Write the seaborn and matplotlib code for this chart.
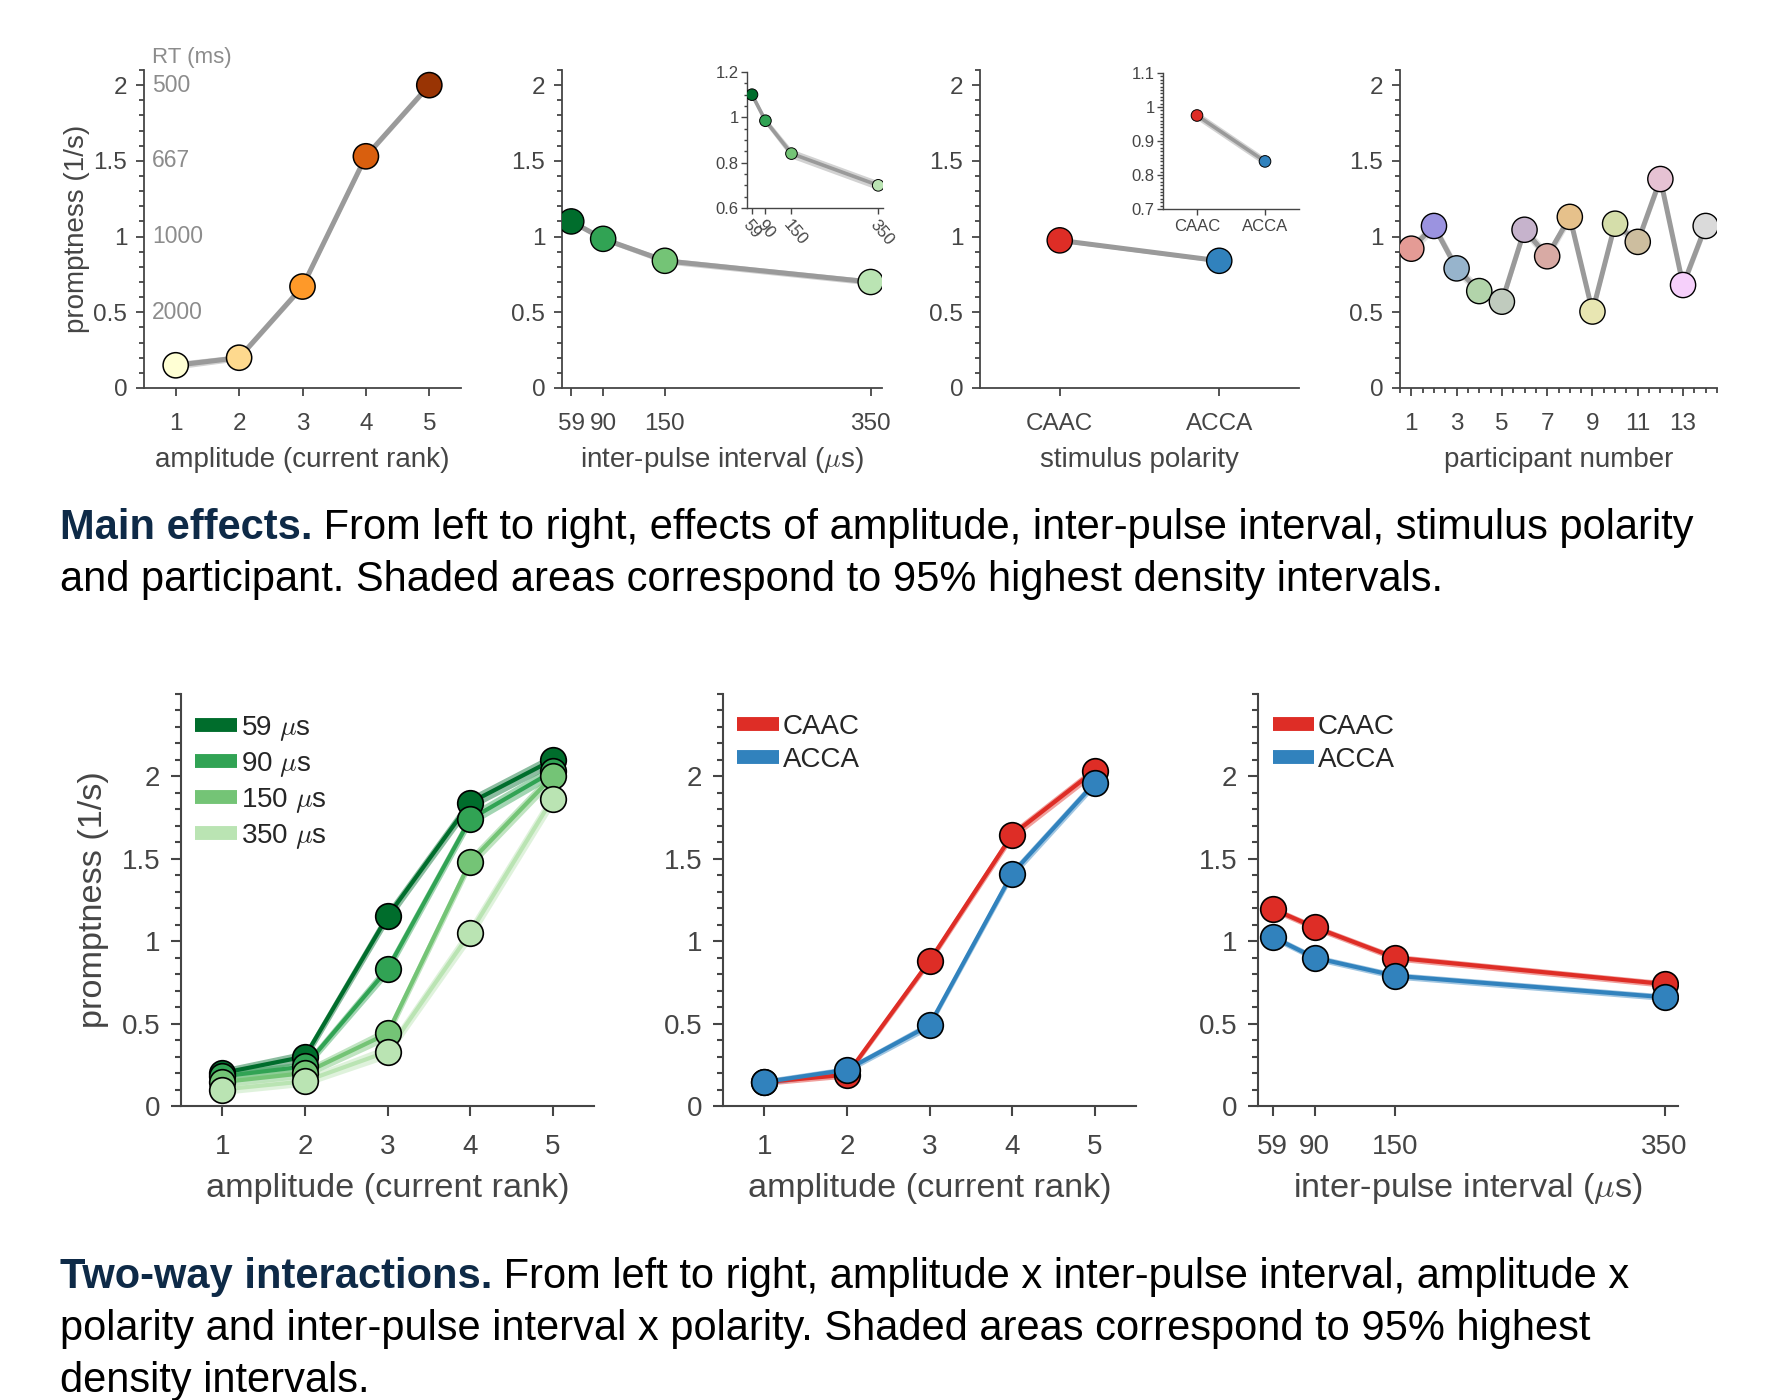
import numpy as np
import pandas as pd
import seaborn as sns
import matplotlib
matplotlib.use("Agg")
import matplotlib.pyplot as plt
import matplotlib.transforms as mtransforms
from matplotlib.ticker import MultipleLocator, FixedLocator, FuncFormatter
from matplotlib.lines import Line2D

sns.set_theme(style="ticks")
plt.rcParams["font.family"] = ["Liberation Sans", "DejaVu Sans"]
plt.rcParams["mathtext.fontset"] = "cm"

# ---------------- data ----------------
amplitude = [1, 2, 3, 4, 5]
amp_promptness = [0.15, 0.20, 0.67, 1.53, 2.00]
amp_hdi_half = [0.025, 0.02, 0.02, 0.02, 0.02]
amp_colors = ["#ffffd4", "#fed98e", "#fe9929", "#d95f0e", "#993404"]

ipi_us = [59, 90, 150, 350]
ipi_promptness = [1.10, 0.985, 0.84, 0.70]
ipi_hdi_half = [0.015, 0.015, 0.02, 0.02]
ipi_colors = ["#006d2c", "#31a354", "#74c476", "#bae4b3"]
ipi_labels = ["59 $\\mu$s", "90 $\\mu$s", "150 $\\mu$s", "350 $\\mu$s"]

polarity = ["CAAC", "ACCA"]
pol_promptness = [0.975, 0.84]
pol_hdi_half = [0.012, 0.012]
pol_colors = ["#de2d26", "#3182bd"]

participants = list(range(1, 15))
part_promptness = [0.92, 1.07, 0.79, 0.64, 0.57, 1.045, 0.87, 1.13, 0.505,
                   1.085, 0.965, 1.38, 0.68, 1.07]
part_hdi_half = [0.04, 0.04, 0.04, 0.04, 0.04, 0.04, 0.04, 0.04, 0.04,
                 0.04, 0.04, 0.04, 0.04, 0.04]
part_colors = ["#e49b95", "#9b93e0", "#97b4cc", "#b2d4aa", "#c0cbbe", "#c6b3cc",
               "#d8aaa4", "#e6c18b", "#e8e6b2", "#d5deaa", "#cdbe9f", "#e6c2d3",
               "#f6d0fb", "#dadada"]

rt_ms_labels = ["500", "667", "1000", "2000"]
rt_promptness = [2.0, 1.5, 1.0, 0.5]

# amplitude x inter-pulse interval
amp_ipi_59 = [0.20, 0.30, 1.15, 1.84, 2.10]
amp_ipi_90 = [0.18, 0.24, 0.83, 1.74, 2.03]
amp_ipi_150 = [0.145, 0.20, 0.44, 1.48, 2.00]
amp_ipi_350 = [0.10, 0.15, 0.33, 1.05, 1.865]
amp_ipi_hw_59 = [0.03, 0.035, 0.04, 0.04, 0.04]
amp_ipi_hw_90 = [0.03, 0.03, 0.04, 0.04, 0.04]
amp_ipi_hw_150 = [0.03, 0.03, 0.04, 0.04, 0.04]
amp_ipi_hw_350 = [0.03, 0.03, 0.04, 0.05, 0.05]

# amplitude x polarity
amp_pol_caac = [0.145, 0.19, 0.88, 1.645, 2.035]
amp_pol_acca = [0.145, 0.22, 0.49, 1.41, 1.96]
amp_pol_hw_caac = [0.02, 0.02, 0.025, 0.03, 0.03]
amp_pol_hw_acca = [0.02, 0.02, 0.025, 0.03, 0.03]

# inter-pulse interval x polarity
ipi_pol_caac = [1.195, 1.085, 0.90, 0.74]
ipi_pol_acca = [1.025, 0.90, 0.79, 0.66]
ipi_pol_hw_caac = [0.02, 0.02, 0.02, 0.02]
ipi_pol_hw_acca = [0.02, 0.02, 0.02, 0.02]

# ---------------- figure ----------------
W, H = 1773, 1400
fig = plt.figure(figsize=(W / 100, H / 100), dpi=100)


def add_axes_px(left, right, top, bottom):
    return fig.add_axes([left / W, 1 - bottom / H, (right - left) / W, (bottom - top) / H])


AX_COL = "#454545"
LINE_GREY = "#9a9a9a"
BAND_GREY = "#d2d2d2"
fmt_g = FuncFormatter(lambda v, p: "%g" % round(v, 3))


def style(ax, labelsize, ymajor_ticks, yminor, lw=1.3, maj=6, mino=3.5, xpad=8, ypad=6):
    sns.despine(ax=ax)
    for s in ["left", "bottom"]:
        ax.spines[s].set_color(AX_COL)
        ax.spines[s].set_linewidth(lw)
    ax.tick_params(which="both", direction="out", color=AX_COL, labelcolor=AX_COL,
                   width=lw, labelsize=labelsize)
    ax.tick_params(which="major", length=maj)
    ax.tick_params(which="minor", length=mino)
    ax.tick_params(axis="x", which="major", pad=xpad)
    ax.tick_params(axis="y", which="major", pad=ypad)
    ax.yaxis.set_major_locator(FixedLocator(ymajor_ticks))
    ax.yaxis.set_minor_locator(MultipleLocator(yminor))
    ax.yaxis.set_major_formatter(fmt_g)
    ax.set_facecolor("white")


def band(ax, x, y, hw, color, alpha=1.0, z=1):
    ax.fill_between(x, np.array(y) - np.array(hw), np.array(y) + np.array(hw),
                    color=color, alpha=alpha, lw=0, zorder=z)


Y_MAJOR = [0, 0.5, 1, 1.5, 2]

# ---------- top row ----------
ax1 = add_axes_px(144, 461, 70, 388)
ax2 = add_axes_px(562, 882, 70, 388)
ax3 = add_axes_px(980, 1299, 70, 388)
ax4 = add_axes_px(1400, 1717, 70, 388)
ins2 = add_axes_px(747, 883, 72, 208)
ins3 = add_axes_px(1163, 1299, 73, 209)

TOP_LS = 17.5
TOP_LAB = 20
MS_TOP = 330
TOP_XPAD = 12
INSET_LS = 12

# Panel 1: amplitude
df1 = pd.DataFrame({"amplitude": amplitude, "promptness": amp_promptness,
                    "lvl": [str(a) for a in amplitude]})
band(ax1, amplitude, amp_promptness, amp_hdi_half, BAND_GREY)
sns.lineplot(data=df1, x="amplitude", y="promptness", color=LINE_GREY, lw=3.6, ax=ax1, zorder=2)
sns.scatterplot(data=df1, x="amplitude", y="promptness", hue="lvl",
                palette=dict(zip(df1["lvl"], amp_colors)), s=MS_TOP, edgecolor="black",
                linewidth=1.1, legend=False, ax=ax1, zorder=3)
style(ax1, TOP_LS, Y_MAJOR, 0.1, xpad=TOP_XPAD)
ax1.set_xlim(0.5, 5.5)
ax1.set_ylim(0, 2.1)
ax1.xaxis.set_major_locator(FixedLocator(amplitude))
ax1.set_xlabel("amplitude (current rank)", fontsize=TOP_LAB, color=AX_COL)
ax1.set_ylabel("promptness (1/s)", fontsize=TOP_LAB, color=AX_COL)
trans = mtransforms.blended_transform_factory(ax1.transAxes, ax1.transData)
for lab, v in zip(rt_ms_labels, rt_promptness):
    ax1.text(0.025, v, lab, transform=trans, color="#8c8c8c", fontsize=16.5, va="center", ha="left")
ax1.text(0.025, 1.038, "RT (ms)", transform=ax1.transAxes, color="#8c8c8c", fontsize=16,
         va="center", ha="left", clip_on=False)

# Panel 2: inter-pulse interval (+ inset)
df2 = pd.DataFrame({"ipi": ipi_us, "promptness": ipi_promptness, "lvl": [str(v) for v in ipi_us]})
for ax, ms, lw in [(ax2, MS_TOP, 3.6), (ins2, 70, 2.6)]:
    band(ax, ipi_us, ipi_promptness, ipi_hdi_half, BAND_GREY)
    sns.lineplot(data=df2, x="ipi", y="promptness", color=LINE_GREY, lw=lw, ax=ax, zorder=2)
    sns.scatterplot(data=df2, x="ipi", y="promptness", hue="lvl",
                    palette=dict(zip(df2["lvl"], ipi_colors)), s=ms, edgecolor="black",
                    linewidth=1.0 if ax is ax2 else 0.7, legend=False, ax=ax, zorder=3)
style(ax2, TOP_LS, Y_MAJOR, 0.1, xpad=TOP_XPAD)
ax2.set_xlim(50, 361)
ax2.set_ylim(0, 2.1)
ax2.xaxis.set_major_locator(FixedLocator(ipi_us))
ax2.set_xlabel("inter-pulse interval ($\\mu$s)", fontsize=TOP_LAB, color=AX_COL)
ax2.set_ylabel("")

style(ins2, INSET_LS, [0.6, 0.8, 1.0, 1.2], 0.05, lw=1.0, maj=4, mino=2.2, xpad=3, ypad=2)
ins2.set_xlim(47.5, 361)
ins2.set_ylim(0.6, 1.2)
ins2.xaxis.set_major_locator(FixedLocator(ipi_us))
ins2.set_xlabel("")
ins2.set_ylabel("")
for t in ins2.get_xticklabels():
    t.set_rotation(-50)
    t.set_ha("left")
    t.set_va("top")
    t.set_rotation_mode("anchor")

# Panel 3: polarity (+ inset)
df3 = pd.DataFrame({"polarity": polarity, "promptness": pol_promptness})
for ax, ms, lw in [(ax3, MS_TOP, 3.6), (ins3, 70, 2.6)]:
    band(ax, [0, 1], pol_promptness, pol_hdi_half, BAND_GREY)
    sns.lineplot(data=df3, x="polarity", y="promptness", color=LINE_GREY, lw=lw, ax=ax,
                 zorder=2, sort=False)
    sns.scatterplot(data=df3, x="polarity", y="promptness", hue="polarity",
                    palette=dict(zip(polarity, pol_colors)), s=ms, edgecolor="black",
                    linewidth=1.0 if ax is ax3 else 0.7, legend=False, ax=ax, zorder=3)
style(ax3, TOP_LS, Y_MAJOR, 0.1, xpad=TOP_XPAD)
ax3.set_xlim(-0.5, 1.5)
ax3.set_ylim(0, 2.1)
ax3.set_xlabel("stimulus polarity", fontsize=TOP_LAB, color=AX_COL)
ax3.set_ylabel("")

style(ins3, INSET_LS, [0.7, 0.8, 0.9, 1.0, 1.1], 0.01, lw=1.0, maj=4, mino=2.2, xpad=3, ypad=2)
ins3.set_xlim(-0.5, 1.5)
ins3.set_ylim(0.7, 1.1)
ins3.tick_params(axis="x", labelsize=12)
ins3.set_xlabel("")
ins3.set_ylabel("")

# Panel 4: participants
df4 = pd.DataFrame({"participant": participants, "promptness": part_promptness,
                    "lvl": [str(p) for p in participants]})
band(ax4, participants, part_promptness, part_hdi_half, "#e0e0e0")
sns.lineplot(data=df4, x="participant", y="promptness", color=LINE_GREY, lw=3.6, ax=ax4, zorder=2)
sns.scatterplot(data=df4, x="participant", y="promptness", hue="lvl",
                palette=dict(zip(df4["lvl"], part_colors)), s=MS_TOP, edgecolor="black",
                linewidth=1.0, legend=False, ax=ax4, zorder=3)
style(ax4, TOP_LS, Y_MAJOR, 0.1, xpad=TOP_XPAD)
ax4.set_xlim(0.5, 14.5)
ax4.set_ylim(0, 2.1)
ax4.xaxis.set_major_locator(FixedLocator([1, 3, 5, 7, 9, 11, 13]))
ax4.xaxis.set_minor_locator(MultipleLocator(0.5))
ax4.set_xlabel("participant number", fontsize=TOP_LAB, color=AX_COL)
ax4.set_ylabel("")

for ax in [ax1, ax2, ax3, ax4]:
    ax.xaxis.set_label_coords(0.5, -0.225)
    ax.xaxis.label.set_va("center")
ax1.yaxis.set_label_coords(-0.211, 0.5)
ax1.yaxis.label.set_va("center")

# ---------- bottom row ----------
ax5 = add_axes_px(181, 594, 694, 1106)
ax6 = add_axes_px(723, 1136, 694, 1106)
ax7 = add_axes_px(1258, 1678, 694, 1106)

BOT_LS = 20
BOT_LAB = 24.7
MS_BOT = 340
LW_BOT = 3.0


def series_panel(ax, x, ys, hws, colors, labels):
    for y, hw, c in zip(ys, hws, colors):
        band(ax, x, y, hw, c, alpha=0.45, z=1)
        sns.lineplot(x=x, y=y, color=c, lw=LW_BOT, ax=ax, zorder=2)
    for y, c in zip(ys, colors):
        sns.scatterplot(x=x, y=y, color=c, s=MS_BOT, edgecolor="black", linewidth=1.2,
                        ax=ax, zorder=3, legend=False)
    handles = [Line2D([0], [0], color=c, lw=10, solid_capstyle="butt") for c in colors]
    ax.legend(handles, labels, loc="upper left", bbox_to_anchor=(0.035, 0.952),
              frameon=False, fontsize=20, handlelength=1.5, handletextpad=0.13,
              labelspacing=0.25, borderaxespad=0, borderpad=0)
    style(ax, BOT_LS, Y_MAJOR, 0.1, lw=1.5, maj=7, mino=4, xpad=13, ypad=8)
    ax.set_ylim(0, 2.5)


series_panel(ax5, amplitude, [amp_ipi_59, amp_ipi_90, amp_ipi_150, amp_ipi_350],
             [amp_ipi_hw_59, amp_ipi_hw_90, amp_ipi_hw_150, amp_ipi_hw_350], ipi_colors, ipi_labels)
ax5.set_xlim(0.5, 5.5)
ax5.xaxis.set_major_locator(FixedLocator(amplitude))
ax5.set_xlabel("amplitude (current rank)", fontsize=BOT_LAB, color=AX_COL)
ax5.set_ylabel("promptness (1/s)", fontsize=BOT_LAB, color=AX_COL)
ax5.yaxis.set_label_coords(-0.211, 0.5)
ax5.yaxis.label.set_va("center")

series_panel(ax6, amplitude, [amp_pol_caac, amp_pol_acca],
             [amp_pol_hw_caac, amp_pol_hw_acca], pol_colors, polarity)
ax6.set_xlim(0.5, 5.5)
ax6.xaxis.set_major_locator(FixedLocator(amplitude))
ax6.set_xlabel("amplitude (current rank)", fontsize=BOT_LAB, color=AX_COL)
ax6.set_ylabel("")

series_panel(ax7, ipi_us, [ipi_pol_caac, ipi_pol_acca],
             [ipi_pol_hw_caac, ipi_pol_hw_acca], pol_colors, polarity)
ax7.set_xlim(48, 360)
ax7.xaxis.set_major_locator(FixedLocator(ipi_us))
ax7.set_xlabel("inter-pulse interval ($\\mu$s)", fontsize=BOT_LAB, color=AX_COL)
ax7.set_ylabel("")

for ax in [ax5, ax6, ax7]:
    ax.xaxis.set_label_coords(0.5, -0.2)
    ax.xaxis.label.set_va("center")

# ---------- captions ----------
cap_family = "Liberation Sans"
cap_size = 30
NAVY = "#0e2a47"
renderer = fig.canvas.get_renderer()


def caption(x_px, baselines, bold, first_rest, more_lines):
    t = fig.text(x_px / W, 1 - baselines[0] / H, bold, fontsize=cap_size, family=cap_family,
                 weight="bold", color=NAVY, va="baseline", ha="left")
    bb = t.get_window_extent(renderer)
    fig.text(bb.x1 / W, 1 - baselines[0] / H, first_rest, fontsize=cap_size,
             family=cap_family, color="black", va="baseline", ha="left")
    for line, b in zip(more_lines, baselines[1:]):
        fig.text(x_px / W, 1 - b / H, line, fontsize=cap_size, family=cap_family,
                 color="black", va="baseline", ha="left")


caption(60, [539, 591], "Main effects.",
        " From left to right, effects of amplitude, inter-pulse interval, stimulus polarity",
        ["and participant. Shaded areas correspond to 95% highest density intervals."])
caption(60, [1288, 1340, 1392], "Two-way interactions.",
        " From left to right, amplitude x inter-pulse interval, amplitude x",
        ["polarity and inter-pulse interval x polarity. Shaded areas correspond to 95% highest",
         "density intervals."])

fig.savefig("out.png", dpi=100, facecolor="white")
